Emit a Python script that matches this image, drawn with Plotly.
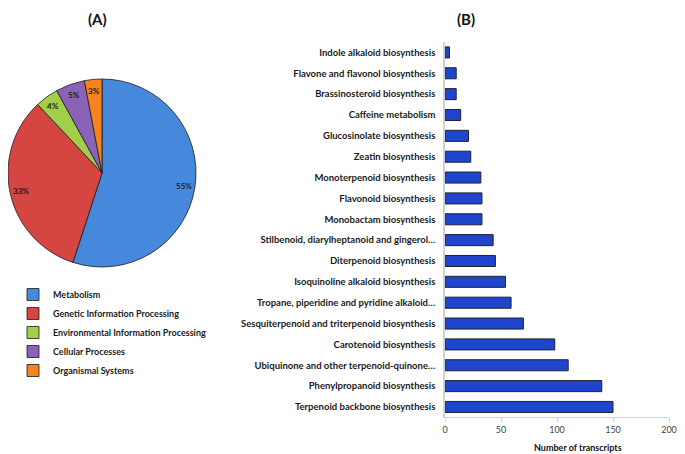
import math
import plotly.graph_objects as go

# ---------------- data ----------------
pie_labels = ["Metabolism", "Genetic Information Processing",
              "Environmental Information Processing", "Cellular Processes",
              "Organismal Systems"]
pie_values = [55, 33, 4, 5, 3]
pie_colors = ["#4688DC", "#D54541", "#A3CE4A", "#8A62B8", "#F5841F"]

bar_categories = [
    "Indole alkaloid biosynthesis",
    "Flavone and flavonol biosynthesis",
    "Brassinosteroid biosynthesis",
    "Caffeine metabolism",
    "Glucosinolate biosynthesis",
    "Zeatin biosynthesis",
    "Monoterpenoid biosynthesis",
    "Flavonoid biosynthesis",
    "Monobactam biosynthesis",
    "Stilbenoid, diarylheptanoid and gingerol\u2026",
    "Diterpenoid biosynthesis",
    "Isoquinoline alkaloid biosynthesis",
    "Tropane, piperidine and pyridine alkaloid\u2026",
    "Sesquiterpenoid and triterpenoid biosynthesis",
    "Carotenoid biosynthesis",
    "Ubiquinone and other terpenoid-quinone\u2026",
    "Phenylpropanoid biosynthesis",
    "Terpenoid backbone biosynthesis",
]
bar_values = [4, 10, 10, 14, 21, 23, 32, 33, 33, 43, 45, 54, 59, 70, 98, 110, 140, 150]
x_ticks = [0, 50, 100, 150, 200]

# page body adds an 8px margin; figure is sized to fill the rest of the window
OX, OY = 8, 8
W, H = 685 - OX, 454 - OY
FONT = "Lato"


def px_x(X):
    return (X - OX) / W


def px_y(Y):
    return 1 - (Y - OY) / H


fig = go.Figure()

# pie geometry (window pixels)
pcx, pcy, pr = 102, 173, 94
fig.add_trace(go.Pie(
    labels=pie_labels, values=pie_values, sort=False, direction="clockwise",
    rotation=0, textinfo="none", hoverinfo="label+percent",
    marker=dict(colors=pie_colors, line=dict(color="#1a1a1a", width=0.8)),
    domain=dict(x=[max(0.0, px_x(pcx - pr)), px_x(pcx + pr)],
                y=[px_y(pcy + pr), px_y(pcy - pr)]),
    showlegend=True,
))

fig.add_trace(go.Bar(
    x=bar_values, y=bar_categories, orientation="h",
    marker=dict(color="#1F45CC", line=dict(color="#222233", width=1)),
    width=0.53, showlegend=False, xaxis="x", yaxis="y",
))

annotations = []
total = sum(pie_values)
cum = 0
for v in pie_values:
    mid = (cum + v / 2) / total * 2 * math.pi
    cum += v
    lx = pcx + 0.88 * pr * math.sin(mid)
    ly = pcy - 0.88 * pr * math.cos(mid)
    annotations.append(dict(
        x=px_x(lx), y=px_y(ly), xref="paper", yref="paper",
        xanchor="center", yanchor="middle",
        text=f"{round(v / total * 100)}%", showarrow=False,
        font=dict(family=FONT, size=8, color="#1a1a1a", weight="bold")))

annotations += [
    dict(x=px_x(97), y=1, xref="paper", yref="paper", text="(A)",
         xanchor="center", yanchor="top", showarrow=False,
         font=dict(family=FONT, size=15, color="#111", weight="bold")),
    dict(x=px_x(466), y=1, xref="paper", yref="paper", text="(B)",
         xanchor="center", yanchor="top", showarrow=False,
         font=dict(family=FONT, size=15, color="#111", weight="bold")),
    dict(x=px_x(578), y=px_y(447), xref="paper", yref="paper",
         xanchor="center", yanchor="middle",
         text="Number of transcripts", showarrow=False,
         font=dict(family=FONT, size=9, color="#111", weight="bold")),
]

fig.update_layout(
    width=W, height=H,
    margin=dict(l=0, r=0, t=0, b=0),
    paper_bgcolor="white", plot_bgcolor="white",
    font=dict(family=FONT),
    annotations=annotations,
    legend=dict(x=px_x(13), y=px_y(280), xanchor="left", yanchor="top",
                font=dict(family=FONT, size=9, color="#1a1a1a", weight="bold"),
                itemwidth=30, tracegroupgap=0, bgcolor="rgba(0,0,0,0)"),
    xaxis=dict(domain=[px_x(445), px_x(669)], range=[0, 200], tickvals=x_ticks,
               showgrid=False, zeroline=False, showline=True, linecolor="#d0d0d0",
               linewidth=1, ticks="outside", ticklen=4, tickcolor="#d0d0d0",
               automargin=False,
               tickfont=dict(family=FONT, size=9, color="#444"), anchor="y"),
    yaxis=dict(domain=[px_y(417.4), px_y(42)], autorange="reversed",
               categoryorder="array", categoryarray=bar_categories,
               showgrid=False, zeroline=False, showline=True, linecolor="#d0d0d0",
               linewidth=1.5, ticks="", ticklabelstandoff=6, automargin=False,
               tickfont=dict(family=FONT, size=9.5, color="#1a1a1a", weight="bold"),
               anchor="x"),
)

fig.write_html("out.html")
